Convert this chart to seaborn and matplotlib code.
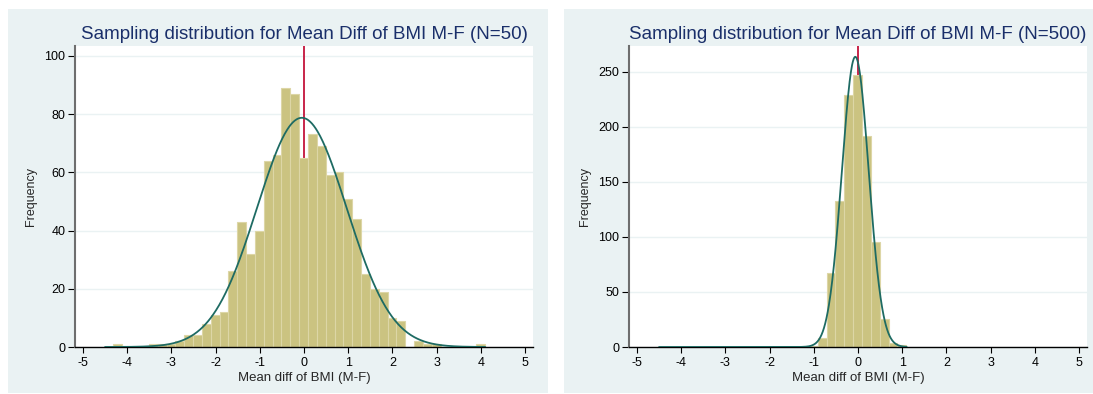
import numpy as np
import pandas as pd
import matplotlib
matplotlib.use("Agg")
import matplotlib.pyplot as plt
import seaborn as sns
from matplotlib.patches import Rectangle

# ---------------- data ----------------
bin_width = 0.2
bin_start_n50 = -4.31
counts_n50 = [1, 0, 0, 0, 1, 1, 1, 2, 4, 4, 8, 11, 12, 26, 43, 32, 40, 64, 66, 89,
              87, 65, 73, 69, 59, 60, 51, 44, 25, 20, 19, 10, 9, 0, 2, 1, 1, 0, 0,
              0, 0, 1]
bin_start_n500 = -1.31
counts_n500 = [1, 1, 8, 67, 133, 229, 247, 192, 95, 25, 4, 2]
curve_span_n50 = (-4.5, 4.1)
curve_span_n500 = (-4.5, 1.1)
x_ticks = [-5, -4, -3, -2, -1, 0, 1, 2, 3, 4, 5]
y_ticks_n50 = [0, 20, 40, 60, 80, 100]
y_ticks_n500 = [0, 50, 100, 150, 200, 250]
titles = ["Sampling distribution for Mean Diff of BMI M-F (N=50)",
          "Sampling distribution for Mean Diff of BMI M-F (N=500)"]
x_title = "Mean diff of BMI (M-F)"
y_title = "Frequency"
ref_line = 0

# ---------------- style ----------------
sns.set_style("white")
plt.rcParams['font.family'] = ['Liberation Sans', 'DejaVu Sans']

BG = "#EAF2F3"
BAR = "#CBC381"
BAR_EDGE = "#DDD6A6"
CURVE = "#1E6B63"
RED = "#C4143C"
TITLE = "#1A2F6A"

W, H = 1093, 394
fig = plt.figure(figsize=(W / 100, H / 100), dpi=100)
fig.patch.set_facecolor("white")


def px_rect(x0, y0, x1, y1):
    return Rectangle((x0 / W, 1 - y1 / H), (x1 - x0) / W, (y1 - y0) / H,
                     transform=fig.transFigure, facecolor=BG, edgecolor="none", zorder=-5)


fig.patches.append(px_rect(8, 9, 548, 393))
fig.patches.append(px_rect(564, 9, 1100, 393))

ax_top, ax_bot = 46, 347
axes_px = [(75, 533), (629, 1087)]
axes = []
for (x0, x1) in axes_px:
    a = fig.add_axes([x0 / W, 1 - ax_bot / H, (x1 - x0) / W, (ax_bot - ax_top) / H])
    a.set_zorder(1)
    axes.append(a)


def draw(ax, start, counts, span, yticks, ymax, title):
    counts = np.asarray(counts, dtype=float)
    nb = len(counts)
    centers = start + bin_width * (np.arange(nb) + 0.5)
    df = pd.DataFrame({"x": centers, "n": counts})

    ax.set_facecolor("white")
    ax.grid(axis="y", color=BG, lw=1.0, zorder=0.5)
    ax.grid(axis="x", visible=False)
    ax.set_axisbelow(True)

    ax.axvline(ref_line, color=RED, lw=1.3, zorder=1.5)
    sns.histplot(data=df, x="x", weights="n", binwidth=bin_width,
                 binrange=(start, start + bin_width * nb), color=BAR, alpha=1,
                 edgecolor=BAR_EDGE, linewidth=0.8, ax=ax, zorder=2)

    # fitted normal from the binned sample (Sheppard-corrected)
    N = counts.sum()
    mu = (centers * counts).sum() / N
    var = (counts * (centers - mu) ** 2).sum() / N - bin_width ** 2 / 12
    sd = np.sqrt(var)
    xs = np.linspace(span[0], span[1], 600)
    ys = N * bin_width * np.exp(-0.5 * ((xs - mu) / sd) ** 2) / (sd * np.sqrt(2 * np.pi))
    sns.lineplot(x=xs, y=ys, ax=ax, color=CURVE, lw=1.3, zorder=3)

    ax.set_xlim(-5.18, 5.18)
    ax.set_ylim(0, ymax)
    ax.set_xticks(x_ticks)
    ax.set_xticklabels([str(t) for t in x_ticks])
    ax.set_yticks(yticks)
    ax.set_yticklabels([str(t) for t in yticks])
    ax.tick_params(axis="y", direction="out", length=5, width=0.8, pad=2,
                   labelsize=9, colors="black", left=True)
    ax.tick_params(axis="x", direction="out", length=4, width=0.8, pad=3.5,
                   labelsize=9, colors="black", bottom=True)

    for s in ("top", "right"):
        ax.spines[s].set_visible(False)
    ax.spines["left"].set_color("#6E6E6E")
    ax.spines["left"].set_linewidth(1.5)
    ax.spines["bottom"].set_color("black")
    ax.spines["bottom"].set_linewidth(1.0)

    ax.set_xlabel(x_title, fontsize=9.5)
    ax.set_ylabel(y_title, fontsize=9)
    ax.xaxis.label.set_va("center")
    ax.yaxis.label.set_va("center")
    ax.xaxis.set_label_coords(0.5, -(378 - ax_bot) / (ax_bot - ax_top))
    ax.yaxis.set_label_coords(-44 / 458, 0.5)
    ax.set_title(title, fontsize=13.5, color=TITLE, pad=4.7)


draw(axes[0], bin_start_n50, counts_n50, curve_span_n50, y_ticks_n50, 103.4, titles[0])
draw(axes[1], bin_start_n500, counts_n500, curve_span_n500, y_ticks_n500, 273.6, titles[1])

fig.savefig("out.png", dpi=100, facecolor=fig.get_facecolor())
